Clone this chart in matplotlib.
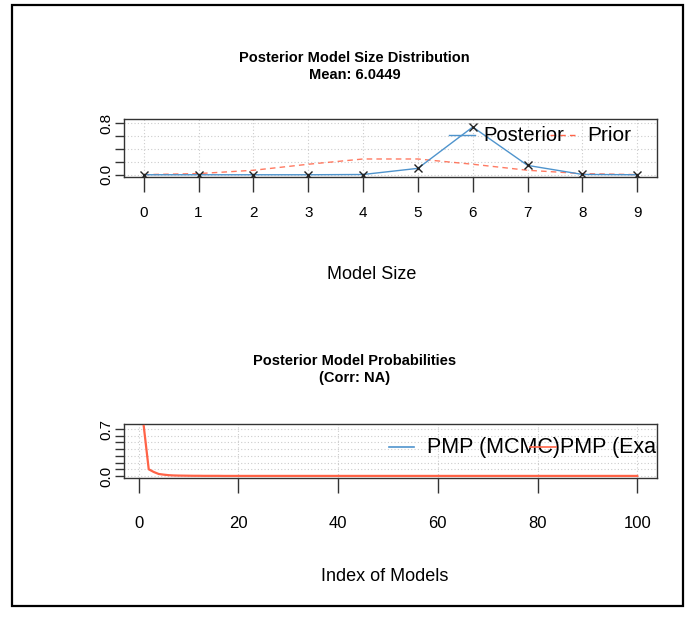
import matplotlib
matplotlib.use("Agg")
import matplotlib.pyplot as plt
from matplotlib.patches import Rectangle
from matplotlib.lines import Line2D

plt.rcParams['font.family'] = ['Liberation Sans', 'DejaVu Sans']

# ---- data ----
model_sizes = [0, 1, 2, 3, 4, 5, 6, 7, 8, 9]
posterior = [0.0, 0.0, 0.0, 0.0, 0.004, 0.10, 0.745, 0.146, 0.005, 0.0]
prior = [0.002, 0.018, 0.070, 0.164, 0.246, 0.246, 0.164, 0.070, 0.018, 0.002]
size_ticks = [0, 1, 2, 3, 4, 5, 6, 7, 8, 9]

pmp_exact = [0.745, 0.10, 0.06, 0.03, 0.02, 0.012, 0.008, 0.006, 0.005, 0.004,
             0.003, 0.003, 0.002, 0.002, 0.002, 0.002, 0.001, 0.001, 0.001, 0.001,
             0.001, 0.001, 0.001, 0.001, 0.001, 0.001, 0.001, 0.001, 0.001, 0.001,
             0.001, 0.001, 0.001, 0.001, 0.001, 0.001, 0.001, 0.001, 0.001, 0.001,
             0.001, 0.001, 0.001, 0.001, 0.001, 0.001, 0.001, 0.001, 0.001, 0.001,
             0.001, 0.001, 0.001, 0.001, 0.001, 0.001, 0.001, 0.001, 0.001, 0.001,
             0.001, 0.001, 0.001, 0.001, 0.001, 0.001, 0.001, 0.001, 0.001, 0.001,
             0.001, 0.001, 0.001, 0.001, 0.001, 0.001, 0.001, 0.001, 0.001, 0.001,
             0.001, 0.001, 0.001, 0.001, 0.001, 0.001, 0.001, 0.001, 0.001, 0.001,
             0.001, 0.001, 0.001, 0.001, 0.001, 0.001, 0.001, 0.001, 0.001, 0.001]
model_index = list(range(1, len(pmp_exact) + 1))
index_ticks = [0, 20, 40, 60, 80, 100]

top_yticks = [0.0, 0.2, 0.4, 0.6, 0.8]
top_ylabels = ["0.0", "", "", "", "0.8"]
bot_yticks = [0.0, 0.1, 0.2, 0.3, 0.4, 0.5, 0.6, 0.7]
bot_ylabels = ["0.0", "", "", "", "", "", "", "0.7"]

BLUE = "#4F94CD"
RED = "#FF6347"
W, H = 695, 619

fig = plt.figure(figsize=(W / 100, H / 100), dpi=100)
fig.patch.set_facecolor("white")
fig.add_artist(Rectangle((12 / W, 1 - 606 / H), (683 - 12) / W, (606 - 5) / H,
                         transform=fig.transFigure, fill=False, edgecolor="black",
                         linewidth=1.6))


def px_axes(l, t, r, b):
    return fig.add_axes([l / W, 1 - b / H, (r - l) / W, (b - t) / H])


def style(ax, xpad):
    for s in ax.spines.values():
        s.set_linewidth(1.0)
        s.set_color("#333333")
    ax.tick_params(axis="x", length=11, width=1.0, pad=xpad, labelsize=11, color="#333333")
    ax.tick_params(axis="y", length=6.5, width=1.0, pad=1, labelsize=11, color="#333333")
    for lab in ax.get_yticklabels():
        lab.set_rotation(90)
        lab.set_va("center")


# ---- top panel ----
ax1 = px_axes(124, 119, 657, 177)
ax1.set_xlim(-0.36, 9.36)
ax1.set_ylim(-0.035, 0.87)
ax1.set_xticks(size_ticks)
ax1.set_yticks(top_yticks)
ax1.set_yticklabels(top_ylabels)
for x in size_ticks:
    ax1.axvline(x, color="#cccccc", lw=0.8, ls=(0, (1, 2)), zorder=0)
for y in top_yticks:
    ax1.axhline(y, color="#cccccc", lw=0.8, ls=(0, (1, 2)), zorder=0)
ax1.plot(model_sizes, prior, color=RED, lw=1.0, ls=(0, (4, 3)), alpha=0.85, zorder=2)
ax1.plot(model_sizes, posterior, color=BLUE, lw=1.0, zorder=3)
ax1.plot(model_sizes, posterior, ls="none", marker="x", ms=6, mew=1.0, color="#222222", zorder=4)
style(ax1, 10)
ax1.set_title("Posterior Model Size Distribution\nMean: 6.0449", fontsize=10.5,
              fontweight="bold", pad=28.5, linespacing=1.3, x=0.433)
ax1.set_xlabel("Model Size", fontsize=13, labelpad=33, x=0.465)
# legend (horizontal, R-style, overlapping)
ax1.add_line(Line2D([0.61, 0.659], [0.72, 0.72], transform=ax1.transAxes,
                    color=BLUE, lw=1.0, zorder=5))
ax1.add_line(Line2D([0.80, 0.85], [0.72, 0.72], transform=ax1.transAxes,
                    color=RED, lw=1.0, ls=(0, (4, 3)), zorder=5))
ax1.text(0.675, 0.72, "Posterior", transform=ax1.transAxes, fontsize=14.5,
         va="center", ha="left", zorder=6)
ax1.text(0.87, 0.72, "Prior", transform=ax1.transAxes, fontsize=15,
         va="center", ha="left", zorder=6, clip_on=True)

# ---- bottom panel ----
ax2 = px_axes(124, 424, 657, 478)
ax2.set_xlim(-2.96, 103.96)
ax2.set_ylim(-0.03, 0.775)
ax2.set_xticks(index_ticks)
ax2.set_yticks(bot_yticks)
ax2.set_yticklabels(bot_ylabels)
for x in index_ticks:
    ax2.axvline(x, color="#cccccc", lw=0.8, ls=(0, (1, 2)), zorder=0)
for y in bot_yticks:
    ax2.axhline(y, color="#cccccc", lw=0.8, ls=(0, (1, 2)), zorder=0)
ax2.plot(model_index, pmp_exact, color=RED, lw=1.6, zorder=3)
style(ax2, 16)
ax2.tick_params(axis="x", labelsize=12)
ax2.set_title("Posterior Model Probabilities\n(Corr: NA)", fontsize=10.5,
              fontweight="bold", pad=30, linespacing=1.3, x=0.433)
ax2.set_xlabel("Index of Models", fontsize=13, labelpad=27, x=0.49)
ax2.add_line(Line2D([0.497, 0.544], [0.57, 0.57], transform=ax2.transAxes,
                    color=BLUE, lw=1.2, zorder=5))
ax2.text(0.568, 0.57, "PMP (MCMC)", transform=ax2.transAxes, fontsize=15.5,
         va="center", ha="left", zorder=5)
ax2.add_line(Line2D([0.762, 0.81], [0.57, 0.57], transform=ax2.transAxes,
                    color=RED, lw=1.2, zorder=6))
ax2.text(0.818, 0.57, "PMP (Exact)", transform=ax2.transAxes, fontsize=15.5,
         va="center", ha="left", zorder=6, clip_on=True)

fig.savefig("out.png", dpi=100, facecolor="white")
